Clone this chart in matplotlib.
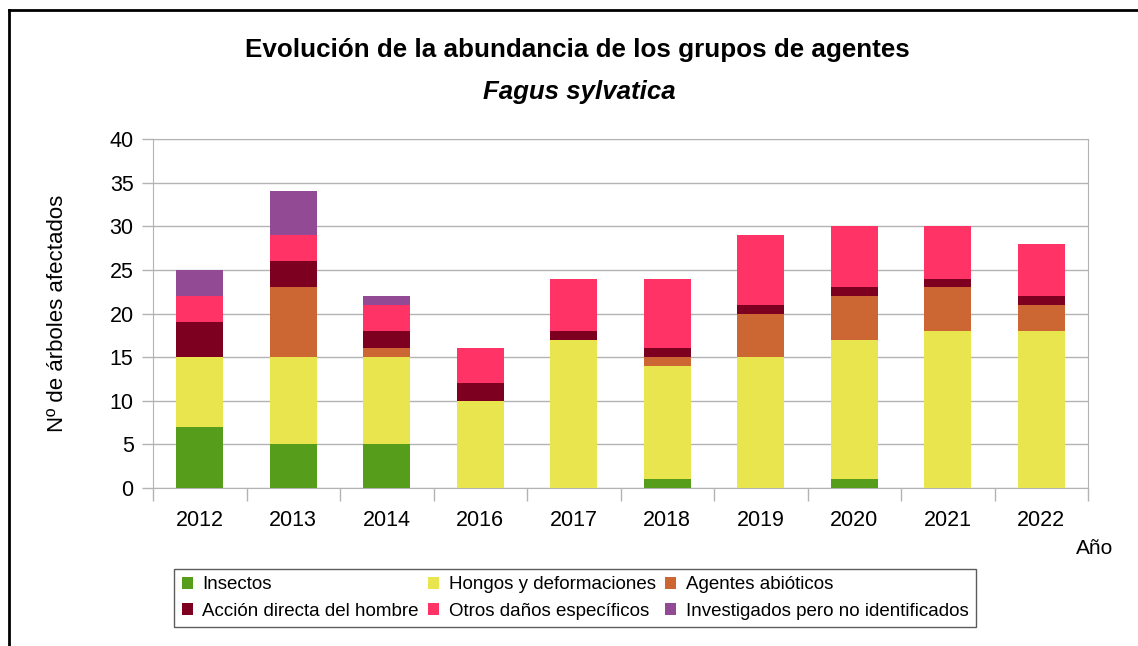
import matplotlib
matplotlib.use("Agg")
import matplotlib.pyplot as plt
import numpy as np
from matplotlib.lines import Line2D

plt.rcParams['font.family'] = ['Liberation Sans', 'DejaVu Sans']

# datos
anios = ['2012', '2013', '2014', '2016', '2017', '2018', '2019', '2020', '2021', '2022']
insectos = [7, 5, 5, 0, 0, 1, 0, 1, 0, 0]
hongos = [8, 10, 10, 10, 17, 13, 15, 16, 18, 18]
abioticos = [0, 8, 1, 0, 0, 1, 5, 5, 5, 3]
accion = [4, 3, 2, 2, 1, 1, 1, 1, 1, 1]
otros = [3, 3, 3, 4, 6, 8, 8, 7, 6, 6]
investigados = [3, 5, 1, 0, 0, 0, 0, 0, 0, 0]

nombres = ['Insectos', 'Hongos y deformaciones', 'Agentes abióticos',
           'Acción directa del hombre', 'Otros daños específicos',
           'Investigados pero no identificados']
colores = ['#579D1C', '#E8E54E', '#CC6633', '#7E0021', '#FF3366', '#914A93']
series = [insectos, hongos, abioticos, accion, otros, investigados]

fig = plt.figure(figsize=(11.38, 6.46), dpi=100)
ax = fig.add_axes([153/1138, 1-488/646, 935/1138, 349/646])

x = np.arange(len(anios))
base = np.zeros(len(anios))
barras = []
for vals, nom, col in zip(series, nombres, colores):
    b = ax.bar(x, vals, 0.5, bottom=base, color=col, label=nom, zorder=3)
    barras.append(b)
    base = base + np.array(vals)

ax.set_xlim(-0.5, len(anios)-0.5)
ax.set_ylim(0, 40)
ax.set_yticks(range(0, 41, 5))
ax.yaxis.grid(True, color='#b3b3b3', lw=1, zorder=0)
for s in ax.spines.values():
    s.set_color('#b3b3b3')
ax.tick_params(axis='y', length=8, color='#b3b3b3', width=1, pad=6, labelsize=15.5)

ax.set_xticks(x)
ax.set_xticklabels(anios)
ax.set_xticks(np.arange(-0.5, len(anios)), minor=True)
ax.tick_params(axis='x', which='major', length=0, pad=16, labelsize=15.5)
ax.tick_params(axis='x', which='minor', length=9, color='#b3b3b3', width=1)

ax.set_ylabel('Nº de árboles afectados', fontsize=16)
ax.yaxis.set_label_coords(-0.091, 0.5)

fig.text(0.507, 1-50/646, 'Evolución de la abundancia de los grupos de agentes',
         ha='center', va='center', fontsize=18.7, fontweight='bold')
fig.text(0.509, 1-92/646, 'Fagus sylvatica', ha='center', va='center',
         fontsize=18.6, fontweight='bold', style='italic')
fig.text(1095/1138, 1-548/646, 'Año', ha='center', va='center', fontsize=15)

# marco exterior
fig.add_artist(Line2D([9/1138, 1], [1-10/646, 1-10/646], color='black', lw=2, transform=fig.transFigure))
fig.add_artist(Line2D([9/1138, 9/1138], [0, 1-10/646], color='black', lw=2, transform=fig.transFigure))

orden = [0, 3, 1, 4, 2, 5]
leg = fig.legend([barras[i] for i in orden], [nombres[i] for i in orden], ncol=3,
                 loc='center', bbox_to_anchor=(575/1138, 1-598/646), fontsize=13.5,
                 frameon=True, fancybox=False, edgecolor='#333333',
                 handlelength=0.6, handleheight=0.6, handletextpad=0.5,
                 columnspacing=0.5, labelspacing=0.5, borderpad=0.4)
leg.get_frame().set_linewidth(1)

fig.savefig('out.png', dpi=100)
